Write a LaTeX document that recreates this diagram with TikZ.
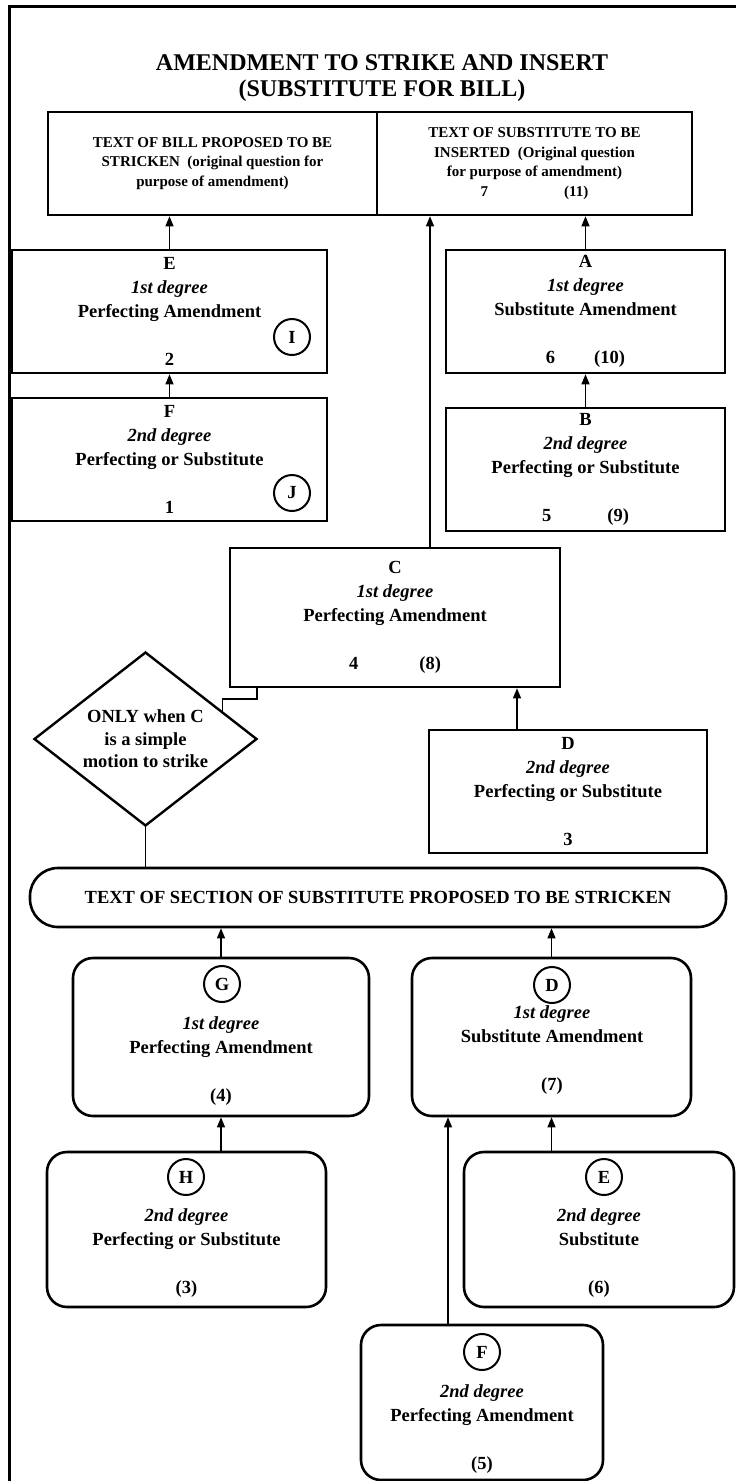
\documentclass[tikz,border=0pt]{standalone}
\usepackage{fontspec}
\setmainfont{Liberation Serif}
\usetikzlibrary{arrows.meta,shapes.geometric}

\newcommand{\bxfont}{\fontsize{18.5}{24}\selectfont\bfseries}
\newcommand{\tpfont}{\fontsize{15}{19.5}\selectfont\bfseries}
\newcommand{\ttlfont}{\fontsize{24}{26}\selectfont\bfseries}
\newcommand{\cndfont}{\fontsize{18.5}{22.5}\selectfont\bfseries}

\begin{document}
\begin{tikzpicture}[x=1pt, y=-1pt,
  sqbox/.style={draw, line width=2.6pt, inner sep=0pt, align=center, font=\bxfont},
  rbox/.style={sqbox, rounded corners=20pt},
  txt/.style={inner sep=0pt, align=center, font=\bxfont},
  ltr/.style={draw, circle, line width=2pt, minimum size=36pt, inner sep=0pt, font=\bxfont},
  link/.style={line width=1.3pt},
  arr/.style={link, -{Triangle[length=10pt, width=8pt]}}]
  \useasboundingbox (0,0) rectangle (736,1481);
  \draw[line width=3pt] (9,1481) -- (9,6) -- (736,6);
  \node[txt, font=\ttlfont] (title) at (382,78) {AMENDMENT TO STRIKE AND INSERT\\(SUBSTITUTE FOR BILL)};

  \node[sqbox, font=\tpfont, minimum width=329pt, minimum height=103pt] (bill) at (212.5,163.5)
    {TEXT OF BILL PROPOSED TO BE\\STRICKEN\ \ (original question for\\purpose of amendment)};
  \node[sqbox, font=\tpfont, minimum width=315pt, minimum height=103pt] (subst) at (534.5,163.5)
    {TEXT OF SUBSTITUTE TO BE\\INSERTED\ \ (Original question\\for purpose of amendment)\\7\hspace{76pt}(11)};

  \node[sqbox, minimum width=315pt, minimum height=123pt] (perfE) at (169.5,311.5)
    {E\\\textit{1st degree}\\Perfecting Amendment\\[24pt]2};
  \node[sqbox, minimum width=315pt, minimum height=123pt] (perfF) at (169.5,459.5)
    {F\\\textit{2nd degree}\\Perfecting or Substitute\\[24pt]1};
  \node[ltr] (markI) at (292,337) {I};
  \node[ltr] (markJ) at (292,493) {J};

  \node[sqbox, minimum width=279pt, minimum height=123pt] (subA) at (585.5,311.5)
    {A\\\textit{1st degree}\\Substitute Amendment\\[24pt]6\hspace{39pt}(10)};
  \node[sqbox, minimum width=279pt, minimum height=123pt] (subB) at (585.5,469.5)
    {B\\\textit{2nd degree}\\Perfecting or Substitute\\[24pt]5\hspace{56pt}(9)};

  \node[sqbox, minimum width=330pt, minimum height=139pt] (perfC) at (395,617.5)
    {C\\\textit{1st degree}\\Perfecting Amendment\\[24pt]4\hspace{61pt}(8)};
  \node[sqbox, minimum width=278pt, minimum height=123pt] (perfD) at (568,791.5)
    {D\\\textit{2nd degree}\\Perfecting or Substitute\\[24pt]3};

  \node[draw, diamond, line width=2.4pt, inner sep=0pt, shape aspect=1.28,
    minimum width=223pt, minimum height=174pt, align=center, font=\cndfont] (cond) at (145.5,739)
    {ONLY when C\\is a simple\\motion to strike};

  \node[sqbox, rounded corners=28pt, minimum width=696pt, minimum height=59pt] (bar) at (378,897.5)
    {TEXT OF SECTION OF SUBSTITUTE PROPOSED TO BE STRICKEN};

  \node[rbox, minimum width=296pt, minimum height=158pt] (perfG) at (221,1037) {};
  \node[ltr] (markG) at (222,984) {G};
  \node[txt] (textG) at (221,1061) {\textit{1st degree}\\Perfecting Amendment\\[24pt](4)};

  \node[rbox, minimum width=279pt, minimum height=158pt] (subD) at (551.5,1037) {};
  \node[ltr] (markD) at (552,985) {D};
  \node[txt] (textD) at (552,1050) {\textit{1st degree}\\Substitute Amendment\\[24pt](7)};

  \node[rbox, minimum width=279pt, minimum height=155pt] (perfH) at (186.5,1229.5) {};
  \node[ltr] (markH) at (186,1177) {H};
  \node[txt] (textH) at (186.5,1253.5) {\textit{2nd degree}\\Perfecting or Substitute\\[24pt](3)};

  \node[rbox, minimum width=270pt, minimum height=155pt] (subE) at (599,1229.5) {};
  \node[ltr] (markE) at (604,1177) {E};
  \node[txt] (textE) at (599,1253.5) {\textit{2nd degree}\\Substitute\\[24pt](6)};

  \node[rbox, minimum width=242pt, minimum height=155pt] (perfF2) at (482,1402.5) {};
  \node[ltr] (markF) at (482,1352) {F};
  \node[txt] (textF) at (482,1429) {\textit{2nd degree}\\Perfecting Amendment\\[24pt](5)};

  \coordinate (Ctop) at ([xshift=35pt]perfC.north);
  \coordinate (Dtop) at ([xshift=-51pt]perfD.north);
  \coordinate (Ftop) at ([xshift=-34pt]perfF2.north);
  \coordinate (bend) at (257,699);

  \draw[arr] (perfE.north) -- (perfE.north |- bill.south);
  \draw[arr] (perfF.north) -- (perfE.south);
  \draw[arr] (subA.north) -- (subA.north |- subst.south);
  \draw[arr] (subB.north) -- (subA.south);
  \draw[arr] (Ctop) -- (Ctop |- subst.south);
  \draw[arr] (Dtop) -- (Dtop |- perfC.south);
  \draw[link] (cond.20) |- (bend) -- (bend |- perfC.south);
  \draw[link] (cond.south) -- (cond.south |- bar.north);
  \draw[arr] (perfG.north) -- (perfG.north |- bar.south);
  \draw[arr] (subD.north) -- (subD.north |- bar.south);
  \draw[arr] (perfG.south |- perfH.north) -- (perfG.south);
  \draw[arr] (subD.south |- subE.north) -- (subD.south);
  \draw[arr] (Ftop) -- (Ftop |- subD.south);
\end{tikzpicture}
\end{document}
